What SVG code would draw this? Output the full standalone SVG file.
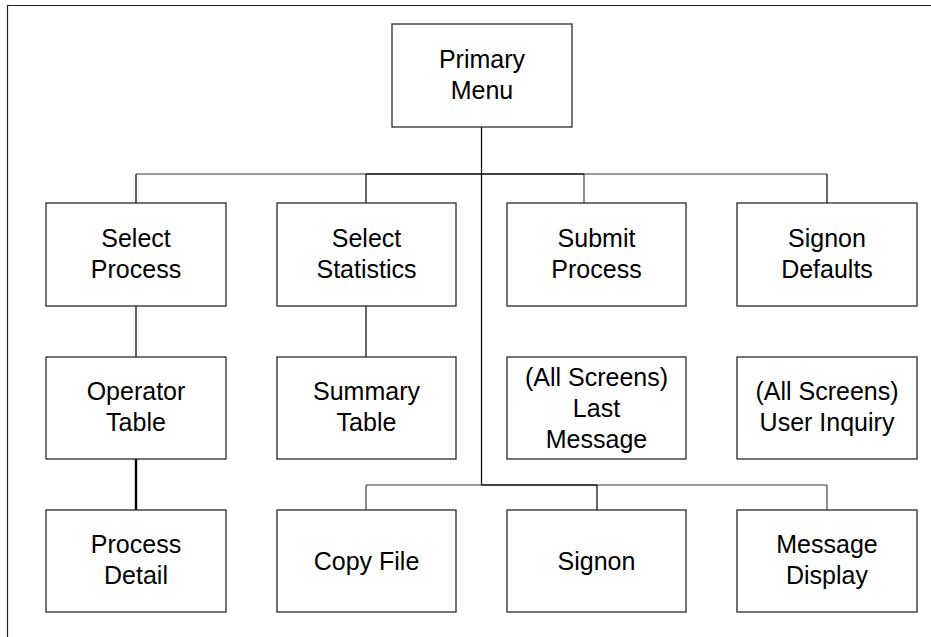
<svg xmlns="http://www.w3.org/2000/svg" width="931" height="637" viewBox="0 0 931 637">
<style>
.box{fill:#fff;stroke:#2a2a2a;stroke-width:1.3}
.t{font-family:"Liberation Sans",Arial,sans-serif;font-size:25px;fill:#000;text-anchor:middle}
.g{stroke:#777;stroke-width:1.6;fill:none}
.k{stroke:#000;stroke-width:1.6;fill:none}
.d{stroke:#000;stroke-width:1.2;fill:none}
.dg{stroke:#444;stroke-width:1.2;fill:none}
.frame{stroke:#222;stroke-width:1.2;fill:none}
</style>
<rect width="931" height="637" fill="#fff"/>
<path class="frame" d="M7.5,640 V5.5 H940"/>
<g id="connectors">
<line class="d" x1="481.5" y1="127" x2="481.5" y2="485"/>
<line class="g" x1="136" y1="174" x2="366" y2="174"/>
<line class="k" x1="366" y1="174" x2="584" y2="174"/>
<line class="g" x1="584" y1="174" x2="827" y2="174"/>
<line class="d" x1="136" y1="174" x2="136" y2="203"/>
<line class="d" x1="366" y1="174" x2="366" y2="203"/>
<line class="dg" x1="584" y1="174" x2="584" y2="203"/>
<line class="d" x1="827" y1="174" x2="827" y2="203"/>
<line class="d" x1="136" y1="306" x2="136" y2="357"/>
<line class="d" x1="366" y1="306" x2="366" y2="357"/>
<line stroke="#000" stroke-width="2.4" x1="136" y1="459" x2="136" y2="510"/>
<line class="g" x1="366" y1="485" x2="481.5" y2="485"/>
<line class="k" x1="481.5" y1="485" x2="597" y2="485"/>
<line class="g" x1="597" y1="485" x2="827" y2="485"/>
<line class="dg" x1="366" y1="485" x2="366" y2="510"/>
<line class="d" x1="597" y1="485" x2="597" y2="510"/>
<line class="dg" x1="827" y1="485" x2="827" y2="510"/>
</g>
<g id="primary-menu"><rect class="box" x="392" y="24" width="180" height="103"/><text class="t" x="482" y="68">Primary</text><text class="t" x="482" y="99">Menu</text></g>
<g id="select-process"><rect class="box" x="46" y="203" width="180" height="103"/><text class="t" x="136" y="247">Select</text><text class="t" x="136" y="278">Process</text></g>
<g id="select-statistics"><rect class="box" x="277" y="203" width="179" height="103"/><text class="t" x="366.5" y="247">Select</text><text class="t" x="366.5" y="278">Statistics</text></g>
<g id="submit-process"><rect class="box" x="507" y="203" width="179" height="103"/><text class="t" x="596.5" y="247">Submit</text><text class="t" x="596.5" y="278">Process</text></g>
<g id="signon-defaults"><rect class="box" x="737" y="203" width="180" height="103"/><text class="t" x="827" y="247">Signon</text><text class="t" x="827" y="278">Defaults</text></g>
<g id="operator-table"><rect class="box" x="46" y="357" width="180" height="102"/><text class="t" x="136" y="400">Operator</text><text class="t" x="136" y="431">Table</text></g>
<g id="summary-table"><rect class="box" x="277" y="357" width="179" height="102"/><text class="t" x="366.5" y="400">Summary</text><text class="t" x="366.5" y="431">Table</text></g>
<g id="last-message"><rect class="box" x="507" y="357" width="179" height="102"/><text class="t" x="596.5" y="386">(All Screens)</text><text class="t" x="596.5" y="417">Last</text><text class="t" x="596.5" y="448">Message</text></g>
<g id="user-inquiry"><rect class="box" x="737" y="357" width="180" height="102"/><text class="t" x="827" y="400">(All Screens)</text><text class="t" x="827" y="431">User Inquiry</text></g>
<g id="process-detail"><rect class="box" x="46" y="510" width="180" height="102"/><text class="t" x="136" y="553">Process</text><text class="t" x="136" y="584">Detail</text></g>
<g id="copy-file"><rect class="box" x="277" y="510" width="179" height="102"/><text class="t" x="366.5" y="570">Copy File</text></g>
<g id="signon"><rect class="box" x="507" y="510" width="179" height="102"/><text class="t" x="596.5" y="570">Signon</text></g>
<g id="message-display"><rect class="box" x="737" y="510" width="180" height="102"/><text class="t" x="827" y="553">Message</text><text class="t" x="827" y="584">Display</text></g>
</svg>
